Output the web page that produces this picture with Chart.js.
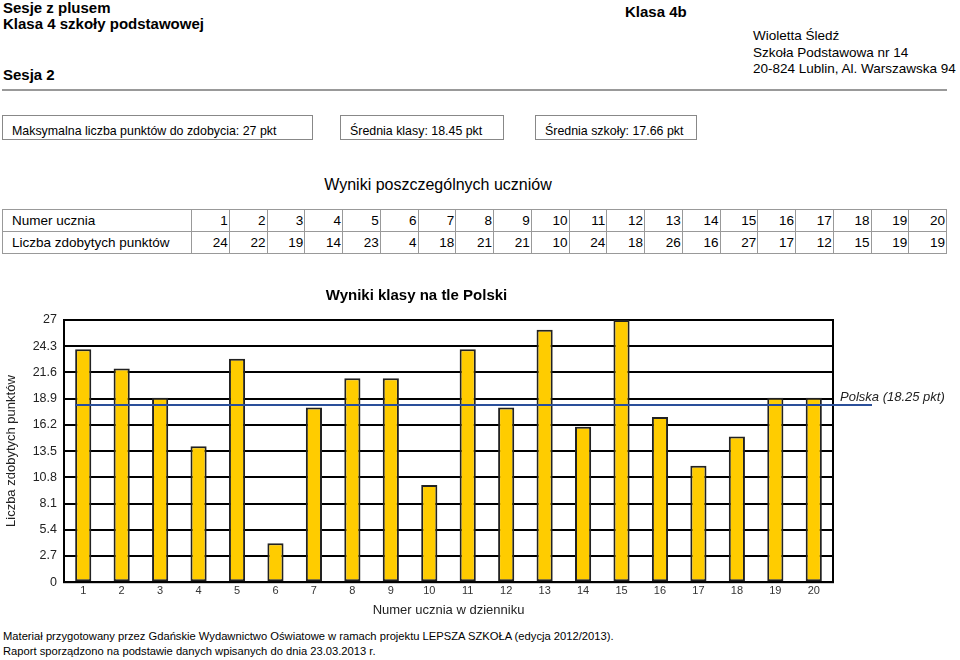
<!DOCTYPE html>
<html>
<head>
<meta charset="utf-8">
<script src="https://cdn.jsdelivr.net/npm/chart.js@4/dist/chart.umd.min.js"></script>
<style>
  html, body { margin: 0; padding: 0; background: #fff; }
  body { width: 960px; height: 660px; position: relative; overflow: hidden; font-family: "Liberation Sans", Arial, sans-serif; color: #000; }
  .abs { position: absolute; white-space: nowrap; }
  .b { font-weight: bold; font-size: 15px; }
  .addr { font-size: 13.5px; line-height: 16.5px; }
  .hr { position: absolute; height: 0; border-top: 2px solid #999; }
  .box { position: absolute; border: 1px solid #888; height: 25px; box-sizing: border-box; font-size: 12.4px; line-height: 30px; padding-left: 9px; }
  table { position: absolute; border-collapse: collapse; font-size: 13.5px; table-layout: fixed; }
  td { border: 1px solid #999; padding: 0 1px 0 0; height: 21px; text-align: right; overflow: hidden; white-space: nowrap; }
  td.h { text-align: left; padding-left: 9px; }
  .foot { font-size: 11.2px; line-height: 15px; }
</style>
</head>
<body>
<div class="abs b" style="left:3px;top:-1px;">Sesje z plusem</div>
<div class="abs b" style="left:3px;top:15px;">Klasa 4 szkoły podstawowej</div>
<div class="abs b" style="left:3px;top:66px;">Sesja 2</div>
<div class="abs b" style="left:625px;top:3px;">Klasa 4b</div>
<div class="abs addr" style="left:753px;top:28px;">Wioletta Śledź<br>Szkoła Podstawowa nr 14<br>20-824 Lublin, Al. Warszawska 94</div>
<div class="hr" style="left:2px;top:89px;width:945px;"></div>

<div class="box" style="left:2px;top:115px;width:311px;">Maksymalna liczba punktów do zdobycia: 27 pkt</div>
<div class="box" style="left:340px;top:115px;width:164px;">Średnia klasy: 18.45 pkt</div>
<div class="box" style="left:535px;top:115px;width:162px;">Średnia szkoły: 17.66 pkt</div>

<div class="abs" style="left:0;width:876px;top:176px;text-align:center;font-size:16px;">Wyniki poszczególnych uczniów</div>

<table id="tbl" style="left:2px;top:209px;width:944px;">
  <colgroup id="cols"><col style="width:189px"></colgroup>
  <tr id="rowNum"><td class="h">Numer ucznia</td></tr>
  <tr id="rowPts"><td class="h">Liczba zdobytych punktów</td></tr>
</table>

<canvas id="c" style="position:absolute;left:0;top:280px;" width="960" height="340"></canvas>

<div class="abs foot" style="left:3px;top:629px;">Materiał przygotowany przez Gdańskie Wydawnictwo Oświatowe w ramach projektu LEPSZA SZKOŁA (edycja 2012/2013).<br>Raport sporządzono na podstawie danych wpisanych do dnia 23.03.2013 r.</div>

<script>
const students = ["1","2","3","4","5","6","7","8","9","10","11","12","13","14","15","16","17","18","19","20"];
const points = [24,22,19,14,23,4,18,21,21,10,24,18,26,16,27,17,12,15,19,19];
const yTicks = [0,2.7,5.4,8.1,10.8,13.5,16.2,18.9,21.6,24.3,27];
const polskaValue = 18.25;
const polskaLabel = "Polska (18.25 pkt)";

// table
const cols = document.getElementById('cols');
const rn = document.getElementById('rowNum');
const rp = document.getElementById('rowPts');
students.forEach((s, i) => {
  const c = document.createElement('col'); c.style.width = '37.75px'; cols.appendChild(c);
  const a = document.createElement('td'); a.textContent = s; rn.appendChild(a);
  const b = document.createElement('td'); b.textContent = points[i]; rp.appendChild(b);
});

const FONT = '"Liberation Sans", Arial, sans-serif';

const framePlugin = {
  id: 'frame',
  beforeDatasetsDraw(chart) {
    const {ctx, chartArea: a} = chart;
    ctx.save();
    ctx.strokeStyle = '#000';
    ctx.lineWidth = 2;
    ctx.strokeRect(a.left, a.top, a.right - a.left, a.bottom - a.top);
    ctx.restore();
  },
  afterDatasetsDraw(chart) {
    const {ctx, chartArea: a, scales} = chart;
    const y = scales.y.getPixelForValue(polskaValue);
    const meta = chart.getDatasetMeta(0);
    const bar0 = meta.data[0];
    const x0 = bar0.x - bar0.width / 2;
    const x1 = a.right + 39;
    ctx.save();
    ctx.strokeStyle = '#2a4f9a';
    ctx.lineWidth = 2;
    ctx.beginPath(); ctx.moveTo(x0, y); ctx.lineTo(x1, y); ctx.stroke();
    ctx.fillStyle = '#222';
    ctx.font = 'italic 13px ' + FONT;
    ctx.textBaseline = 'middle';
    ctx.fillText(polskaLabel, a.right + 7, y - 8);
    ctx.restore();
  }
};

new Chart(document.getElementById('c'), {
  type: 'bar',
  data: {
    labels: students,
    datasets: [{
      data: points,
      backgroundColor: '#ffcc00',
      borderColor: '#222',
      borderWidth: 2,
      borderSkipped: false,
      barPercentage: 0.42,
      categoryPercentage: 1.0
    }]
  },
  options: {
    responsive: false,
    animation: false,
    layout: { padding: { left: 0, right: 127, top: 0, bottom: 2 } },
    plugins: {
      legend: { display: false },
      tooltip: { enabled: false },
      title: {
        display: true,
        text: 'Wyniki klasy na tle Polski',
        color: '#000',
        font: { family: FONT, size: 15, weight: 'bold' },
        padding: { top: 7, bottom: 15 }
      }
    },
    scales: {
      x: {
        grid: { display: false, drawTicks: false, tickLength: 0 },
        border: { color: '#000', width: 2 },
        ticks: { color: '#333', font: { family: FONT, size: 11 }, padding: 2, maxRotation: 0 },
        title: { display: true, text: 'Numer ucznia w dzienniku', color: '#222', font: { family: FONT, size: 13 }, padding: { top: 3, bottom: 0 } }
      },
      y: {
        min: 0, max: 27,
        afterBuildTicks(scale) { scale.ticks = yTicks.map(v => ({ value: v })); },
        afterFit(scale) { scale.width = 64; },
        grid: { color: '#000', lineWidth: 2, drawTicks: false },
        border: { color: '#000', width: 2 },
        ticks: { color: '#222', font: { family: FONT, size: 12.5 }, padding: 7,
          callback: (v) => String(v) },
        title: { display: true, text: 'Liczba zdobytych punktów', color: '#222', font: { family: FONT, size: 13 }, padding: 4 }
      }
    }
  },
  plugins: [framePlugin]
});
</script>
</body>
</html>
